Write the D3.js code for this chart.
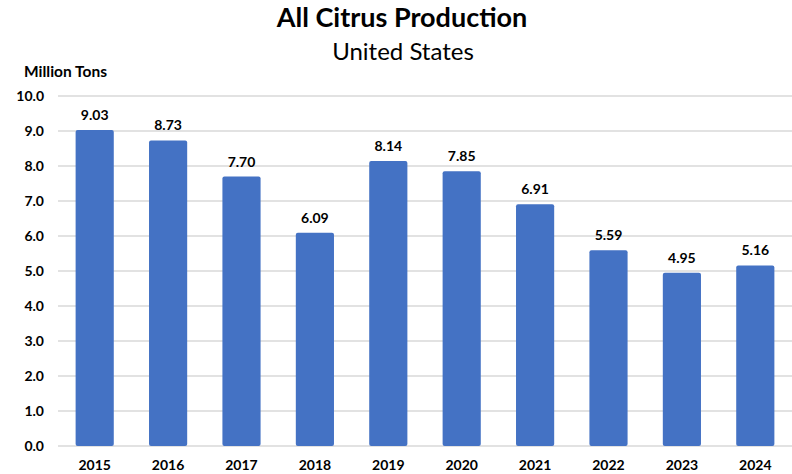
<!DOCTYPE html>
<html>
<head>
<meta charset="utf-8">
<script src="https://cdn.jsdelivr.net/npm/d3@7"></script>
<style>
  body { margin: 0; background: #fff; }
  text { font-family: Lato, "Open Sans", sans-serif; fill: #000; }
</style>
</head>
<body>
<svg id="chart"></svg>
<script>
var years = ["2015", "2016", "2017", "2018", "2019", "2020", "2021", "2022", "2023", "2024"];
var production = [9.03, 8.73, 7.70, 6.09, 8.14, 7.85, 6.91, 5.59, 4.95, 5.16];
var yTicks = [0, 1, 2, 3, 4, 5, 6, 7, 8, 9, 10];

var width = 792,
    height = 474;

var svg = d3.select("#chart")
    .attr("width", width)
    .attr("height", height);

var x = d3.scaleBand()
    .domain(years)
    .range([58, 792])
    .paddingInner(0.48)
    .paddingOuter(0.24);

var y = d3.scaleLinear()
    .domain([0, 10])
    .range([446, 96]);

// gridlines
svg.selectAll("line.grid")
    .data(yTicks)
    .enter().append("line")
    .attr("class", "grid")
    .attr("x1", 58)
    .attr("x2", 792)
    .attr("y1", function(d) { return y(d); })
    .attr("y2", function(d) { return y(d); })
    .style("stroke", "#d9d9d9")
    .style("stroke-width", 1.3);

// y tick labels
svg.selectAll("text.ytick")
    .data(yTicks)
    .enter().append("text")
    .attr("class", "ytick")
    .attr("x", 44)
    .attr("y", function(d) { return y(d); })
    .attr("dy", "0.35em")
    .attr("text-anchor", "end")
    .style("font-size", "14px")
    .style("font-weight", "bold")
    .text(function(d) { return d3.format(".1f")(d); });

// bars
svg.selectAll("rect.bar")
    .data(production)
    .enter().append("rect")
    .attr("class", "bar")
    .attr("x", function(d, i) { return x(years[i]); })
    .attr("y", function(d) { return y(d); })
    .attr("width", x.bandwidth())
    .attr("height", function(d) { return y(0) - y(d); })
    .attr("rx", 2)
    .style("fill", "#4472C4");

// value labels
svg.selectAll("text.value")
    .data(production)
    .enter().append("text")
    .attr("class", "value")
    .attr("x", function(d, i) { return x(years[i]) + x.bandwidth() / 2; })
    .attr("y", function(d) { return y(d) - 10; })
    .attr("text-anchor", "middle")
    .style("font-size", "14px")
    .style("font-weight", "bold")
    .text(function(d) { return d.toFixed(2); });

// x labels
svg.selectAll("text.xtick")
    .data(years)
    .enter().append("text")
    .attr("class", "xtick")
    .attr("x", function(d) { return x(d) + x.bandwidth() / 2; })
    .attr("y", 470)
    .attr("text-anchor", "middle")
    .style("font-size", "14px")
    .style("font-weight", "bold")
    .text(function(d) { return d; });

// titles
svg.append("text")
    .attr("x", 402)
    .attr("y", 27)
    .attr("text-anchor", "middle")
    .style("font-size", "27px")
    .style("font-weight", "bold")
    .text("All Citrus  Production");

svg.append("text")
    .attr("x", 403)
    .attr("y", 60)
    .attr("text-anchor", "middle")
    .style("font-size", "24px")
    .text("United States");

svg.append("text")
    .attr("x", 24)
    .attr("y", 77)
    .style("font-size", "15.5px")
    .style("font-weight", "bold")
    .text("Million Tons");
</script>
</body>
</html>
